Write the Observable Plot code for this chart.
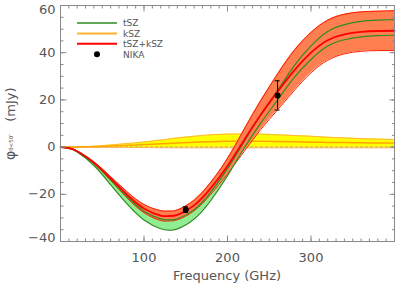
<!DOCTYPE html>
<html><head><meta charset="utf-8">
<script src="https://cdn.jsdelivr.net/npm/d3@7"></script>
<script src="https://cdn.jsdelivr.net/npm/@observablehq/plot@0.6"></script>
<style>body{margin:0;background:#fff} #chart{width:399px;height:287px}</style>
</head><body><div id="chart"></div>
<script>
// Frequency grid (GHz)
const freq   = [0, 10, 20, 40, 60, 80, 100, 120, 130, 140, 160, 180, 200, 220, 240, 260, 280, 300, 320, 340, 360, 380, 400];
// tSZ band (mJy)
const tszLo  = [0, -0.54, -2.10, -7.8, -15.9, -24.2, -30.9, -34.6, -35.15, -34.65, -30.5, -22.55, -12.1, -0.4, 10.3, 20.0, 29.5, 37.1, 42.8, 45.5, 46.7, 47.2, 47.4];
const tszHi  = [0, -0.44, -1.80, -6.8, -13.85, -21.15, -27.15, -30.4, -30.85, -30.35, -26.5, -19.05, -9.1, 2.4, 13.7, 24.0, 34.5, 42.9, 49.0, 51.9, 53.3, 53.8, 54.0];
// kSZ band (mJy)
const kszLo  = [0, 0, 0, -0.05, -0.1, -0.15, -0.2, -0.25, -0.25, -0.3, -0.3, -0.3, -0.3, -0.3, -0.3, -0.3, -0.3, -0.3, -0.3, -0.3, -0.3, -0.3, -0.3];
const kszMid = [0, 0.02, 0.05, 0.2, 0.45, 0.75, 1.05, 1.4, 1.55, 1.75, 2.05, 2.3, 2.45, 2.5, 2.45, 2.35, 2.25, 2.1, 2.0, 1.9, 1.8, 1.75, 1.7];
const kszHi  = [0, 0.03, 0.1, 0.4, 0.9, 1.5, 2.2, 3.0, 3.45, 3.9, 4.6, 5.2, 5.5, 5.6, 5.5, 5.2, 4.9, 4.6, 4.2, 3.9, 3.6, 3.4, 3.2];
// tSZ+kSZ band (mJy)
const totLo  = [0, -0.5, -1.9, -7.0, -14.1, -21.6, -27.8, -31.1, -31.3, -30.8, -27.0, -20.0, -11.3, -1.8, 7.5, 15.8, 24.0, 31.5, 36.8, 39.5, 40.6, 40.9, 40.9];
const totMid = [0, -0.45, -1.75, -6.6, -13.3, -20.3, -26.0, -29.0, -29.2, -28.7, -24.7, -17.4, -8.0, 3.0, 13.8, 23.5, 32.5, 40.0, 45.3, 47.8, 48.8, 49.2, 49.3];
const totHi  = [0, -0.4, -1.6, -6.2, -12.5, -19.0, -24.3, -26.9, -27.1, -26.6, -22.5, -14.9, -4.8, 7.6, 19.8, 31.0, 41.0, 48.6, 53.8, 56.3, 57.3, 57.6, 57.8];
// NIKA measurements
const nikaFreq = [150, 260];
const nikaFlux = [-26.5, 21.9];
const nikaErr  = [1.2, 6.2];
// Ticks
const xLabelTicks = [100, 200, 300];
const yLabelTicks = [-20, 0, 20, 40];

const rows = freq.map((f, i) => ({f, tLo: tszLo[i], tHi: tszHi[i], kLo: kszLo[i], k: kszMid[i], kHi: kszHi[i], rLo: totLo[i], r: totMid[i], rHi: totHi[i]}));
const nika = nikaFreq.map((f, i) => ({f, y: nikaFlux[i], lo: nikaFlux[i] - nikaErr[i], hi: nikaFlux[i] + nikaErr[i]}));

const curve = "natural";
const gray = "#8a8a8a";
const txt = "#555";
const fmt = d => d < 0 ? "\u2212" + (-d) : String(d);

const chart = Plot.plot({
  width: 399, height: 287,
  marginLeft: 60, marginRight: 5, marginTop: 5, marginBottom: 46,
  style: {fontFamily: "DejaVu Sans", fontSize: "13px", color: txt, background: "#fff"},
  x: {domain: [0, 400]},
  y: {domain: [-40, 60]},
  marks: [
    Plot.areaY(rows, {x: "f", y1: "tLo", y2: "tHi", fill: "#90EE90", curve}),
    Plot.areaY(rows, {x: "f", y1: "kLo", y2: "kHi", fill: "#FFFF00", curve}),
    Plot.ruleY([0], {stroke: "#999", strokeDasharray: "3,2"}),
    Plot.line(rows, {x: "f", y: "kLo", stroke: "#FFB347", strokeWidth: 1, curve}),
    Plot.line(rows, {x: "f", y: "kHi", stroke: "#FFB347", strokeWidth: 1, curve}),
    Plot.line(rows, {x: "f", y: "k", stroke: "#FFA500", strokeWidth: 1.5, curve}),
    Plot.areaY(rows, {x: "f", y1: "rLo", y2: "rHi", fill: "#FF7F50", curve}),
    Plot.line(rows, {x: "f", y: "rLo", stroke: "#FF1A00", strokeWidth: 1, curve}),
    Plot.line(rows, {x: "f", y: "rHi", stroke: "#FF1A00", strokeWidth: 1, curve}),
    Plot.line(rows, {x: "f", y: "tLo", stroke: "#2E8B22", strokeWidth: 1.2, curve}),
    Plot.line(rows, {x: "f", y: "tHi", stroke: "#2E8B22", strokeWidth: 1.2, curve}),
    Plot.line(rows, {x: "f", y: "r", stroke: "#FF0000", strokeWidth: 1.8, curve}),
    Plot.ruleX(nika, {x: "f", y1: "lo", y2: "hi", stroke: "#000", strokeWidth: 1}),
    Plot.ruleY(nika, {y: "lo", x1: d => d.f - 3, x2: d => d.f + 3, stroke: "#000", strokeWidth: 1}),
    Plot.ruleY(nika, {y: "hi", x1: d => d.f - 3, x2: d => d.f + 3, stroke: "#000", strokeWidth: 1}),
    Plot.dot(nika, {x: "f", y: "y", r: 3, fill: "#000"}),
    Plot.frame({stroke: gray}),
    // ticks (inward, all four sides)
    Plot.axisX(d3.range(0, 401, 10), {anchor: "bottom", tickSize: -2.5, fill: "none", stroke: gray, label: null}),
    Plot.axisX(d3.range(0, 401, 100), {anchor: "bottom", tickSize: -5.5, fill: "none", stroke: gray, label: null}),
    Plot.axisX(d3.range(0, 401, 10), {anchor: "top", tickSize: -2.5, fill: "none", stroke: gray, label: null}),
    Plot.axisX(d3.range(0, 401, 100), {anchor: "top", tickSize: -5.5, fill: "none", stroke: gray, label: null}),
    Plot.axisY(d3.range(-40, 61, 5), {anchor: "left", tickSize: -3.5, fill: "none", stroke: gray, label: null}),
    Plot.axisY(d3.range(-40, 61, 20), {anchor: "left", tickSize: -6.5, fill: "none", stroke: gray, label: null}),
    Plot.axisY(d3.range(-40, 61, 5), {anchor: "right", tickSize: -3, fill: "none", stroke: gray, label: null}),
    Plot.axisY(d3.range(-40, 61, 20), {anchor: "right", tickSize: -5.5, fill: "none", stroke: gray, label: null}),
    // tick labels
    Plot.axisX(xLabelTicks, {anchor: "bottom", tickSize: 0, tickPadding: 11, fill: txt, label: null}),
    Plot.axisY(yLabelTicks, {anchor: "left", tickSize: 0, tickPadding: 5, tickFormat: fmt, fill: txt, label: null}),
    Plot.axisY([60], {anchor: "left", tickSize: 0, tickPadding: 5, dy: 4.5, tickFormat: fmt, fill: txt, label: null}),
    Plot.axisY([-40], {anchor: "left", tickSize: 0, tickPadding: 5, dy: -4, tickFormat: fmt, fill: txt, label: null})
  ]
});
document.getElementById("chart").appendChild(chart);

const svg = d3.select(chart);
// x-axis title
svg.append("text").attr("x", 227).attr("y", 280).attr("text-anchor", "middle")
  .attr("fill", txt).style("font-size", "13px").text("Frequency (GHz)");
// y-axis title
const yt = svg.append("text").attr("transform", "translate(15,160) rotate(-90)")
  .attr("text-anchor", "start").attr("fill", txt).style("font-size", "13px");
yt.append("tspan").style("font-size", "14px").text("\u03C6");
yt.append("tspan").style("font-size", "5.5px").attr("dy", -2.5).text("\u03B8<50\u2033");
yt.append("tspan").attr("dy", 2.5).attr("dx", 12).text("(mJy)");

// legend
const leg = [
  {label: "tSZ", color: "#2E8B22", w: 1.5},
  {label: "kSZ", color: "#FFB030", w: 2},
  {label: "tSZ+kSZ", color: "#FF0000", w: 2}
];
leg.forEach((d, i) => {
  const y = 23 + i * 10.4;
  svg.append("line").attr("x1", 77).attr("x2", 117).attr("y1", y).attr("y2", y)
    .attr("stroke", d.color).attr("stroke-width", d.w);
  svg.append("text").attr("x", 123).attr("y", y + 3.3).attr("text-anchor", "start").attr("fill", txt)
    .style("font-size", "9px").text(d.label);
});
svg.append("circle").attr("cx", 97).attr("cy", 54.3).attr("r", 3).attr("fill", "#000");
svg.append("text").attr("x", 123).attr("y", 57.6).attr("text-anchor", "start").attr("fill", txt).style("font-size", "9px").text("NIKA");
</script>
</body></html>
